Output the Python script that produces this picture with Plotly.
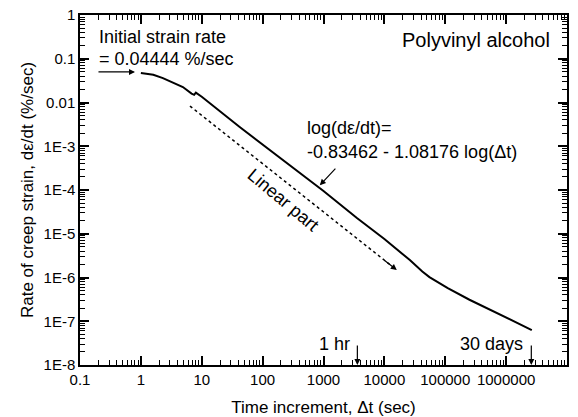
import numpy as np
import plotly.graph_objects as go

# ---- data ----
time_s = [1.0, 1.6, 2.3, 3.3, 4.9, 6.8, 7.5, 8.0, 10, 42, 192, 1000, 3540, 10000, 26200,
          33000, 42000, 55000, 81500, 110000, 250000, 700000, 2640000]
rate = [0.047, 0.043, 0.036, 0.029, 0.0226, 0.0160, 0.0150, 0.0168, 0.0135, 2.75e-3, 5.5e-4,
        9.5e-5, 2.29e-5, 7.6e-6, 2.5e-6, 1.85e-6, 1.37e-6, 1.02e-6, 7.3e-7,
        5.75e-7, 3.1e-7, 1.55e-7, 6.3e-8]

linear_t = [6.4, 16000]
linear_rate = [0.0083, 1.48e-6]

x_ticks = [0.1, 1, 10, 100, 1000, 10000, 100000, 1000000, 1e7]
x_ticktext = ["0.1", "1", "10", "100", "1000", "10000", "100000", "1000000", "1E7"]
y_ticks = [1, 0.1, 0.01, 1e-3, 1e-4, 1e-5, 1e-6, 1e-7, 1e-8]
y_ticktext = ["1", "0.1", "0.01", "1E-3", "1E-4", "1E-5", "1E-6", "1E-7", "1E-8"]

initial_rate = 0.04444
one_hour = 3600
thirty_days = 30 * 24 * 3600

FONT = "Liberation Sans, Arial, sans-serif"


def minor_vals(lo, hi):
    return [m * 10.0 ** d for d in range(lo, hi) for m in range(2, 10)]


fig = go.Figure()
fig.add_trace(go.Scatter(x=time_s, y=rate, mode="lines",
                         line=dict(color="black", width=2), showlegend=False))
fig.add_trace(go.Scatter(x=linear_t, y=linear_rate, mode="lines",
                         line=dict(color="black", width=1.5, dash="dot"),
                         showlegend=False))

ann = []
txt = dict(color="black", size=18, family=FONT)
ann.append(dict(xref="paper", yref="paper", x=0.035, y=0.937, xanchor="left",
                yanchor="middle", text="Initial strain rate", showarrow=False, font=txt))
ann.append(dict(xref="paper", yref="paper", x=0.035, y=0.874, xanchor="left",
                yanchor="middle", text="= %.5f %%/sec" % initial_rate, showarrow=False, font=txt))
ann.append(dict(xref="paper", yref="paper", x=0.969, y=0.929, xanchor="right",
                yanchor="middle", text="Polyvinyl alcohol", showarrow=False,
                font=dict(color="black", size=20, family=FONT)))
ann.append(dict(xref="paper", yref="paper", x=0.462, y=0.677, xanchor="left",
                yanchor="middle", text="log(d\u03b5/dt)=", showarrow=False, font=txt))
ann.append(dict(xref="paper", yref="paper", x=0.462, y=0.609, xanchor="left",
                yanchor="middle", text="-0.83462 - 1.08176 log(\u0394t)", showarrow=False, font=txt))
ann.append(dict(xref="paper", yref="paper", x=0.417, y=0.471, xanchor="center",
                yanchor="middle", text="Linear part", showarrow=False, textangle=40, font=txt))
ann.append(dict(x=np.log10(one_hour), y=-7.52, xanchor="right", yanchor="middle",
                xshift=-5, text="1 hr", showarrow=False, font=txt))
ann.append(dict(x=np.log10(thirty_days), y=-7.52, xanchor="right", yanchor="middle",
                xshift=-6, text="30 days", showarrow=False, font=txt))
arrow = dict(showarrow=True, arrowhead=2, arrowsize=1, arrowwidth=1.2,
             arrowcolor="black", text="", standoff=0)
ann.append(dict(x=np.log10(0.8), y=np.log10(0.05), ax=-38, ay=0, **arrow))
ann.append(dict(x=np.log10(870), y=-3.89, ax=17, ay=-18, **arrow))
ann.append(dict(x=np.log10(linear_t[1]), y=np.log10(linear_rate[1]), ax=-14, ay=-11, **arrow))
ann.append(dict(x=np.log10(one_hour), y=-8, ax=0, ay=-21, **arrow))
ann.append(dict(x=np.log10(thirty_days), y=-8, ax=0, ay=-21, **arrow))

fig.update_layout(
    width=578, height=417,
    margin=dict(l=80, r=11, t=15, b=52, autoexpand=False),
    plot_bgcolor="white", paper_bgcolor="white",
    annotations=ann,
    xaxis=dict(type="log", range=[-1, 7], tickvals=x_ticks, ticktext=x_ticktext,
               showline=True, linecolor="black", linewidth=1.5, mirror="allticks",
               ticks="inside", ticklen=9, tickwidth=2, tickcolor="black",
               tickfont=dict(family=FONT, size=15, color="black"), gridcolor="white",
               minor=dict(ticks="inside", ticklen=5, tickwidth=1.3, tickcolor="black",
                          tickvals=minor_vals(-1, 7)),
               title=dict(text="Time increment, \u0394t (sec)", standoff=14,
                          font=dict(family=FONT, size=17, color="black"))),
    yaxis=dict(type="log", range=[-8, 0], tickvals=y_ticks, ticktext=y_ticktext,
               showline=True, linecolor="black", linewidth=1.5, mirror="allticks",
               ticks="inside", ticklen=9, tickwidth=2, tickcolor="black",
               tickfont=dict(family=FONT, size=15, color="black"), gridcolor="white",
               minor=dict(ticks="inside", ticklen=5, tickwidth=1.3, tickcolor="black",
                          tickvals=minor_vals(-8, 0)),
               title=dict(text="Rate of creep strain, d\u03b5/dt (%/sec)", standoff=6,
                          font=dict(family=FONT, size=17, color="black"))),
)

fig.write_html("out.html")
